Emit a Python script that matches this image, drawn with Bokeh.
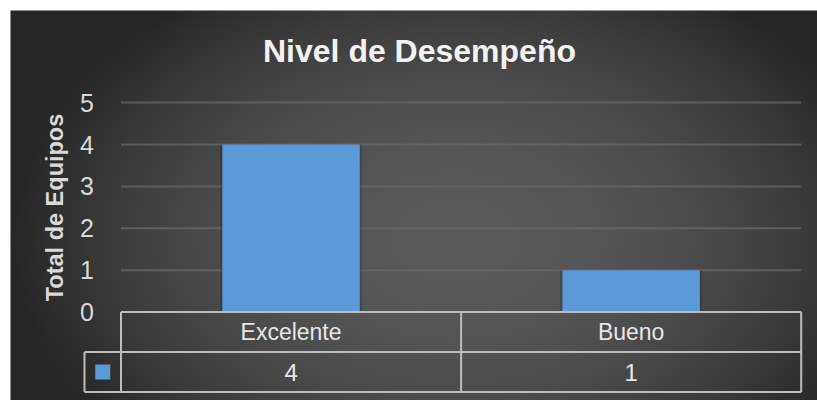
import numpy as np
from bokeh.plotting import figure
from bokeh.models import Range1d, LinearAxis, FixedTicker, Label
from bokeh.core.properties import value
from bokeh.embed import file_html
from bokeh.resources import INLINE

# ---- data ----
categories = ["Excelente", "Bueno"]
counts = [4, 1]
y_ticks = [0, 1, 2, 3, 4, 5]
title_text = "Nivel de Desempeño"
y_title = "Total de Equipos"

# ---- layout helpers (pixel geometry of the reference) ----
OFF = 0                 # canvas origin in the photographed page
X0, XS = 120.5, 340.1   # plot-left pixel, pixels per category
Y0, YS = 311.6, 41.9    # zero-line pixel, pixels per unit
def dx(px): return (px - X0) / XS
def dy(py): return (Y0 - py) / YS

W, H = 817, 400
p = figure(width=W, height=H, output_backend="svg", toolbar_location=None,
           x_range=Range1d(dx(OFF), dx(OFF + W)), y_range=Range1d(dy(OFF + H), dy(OFF)),
           x_axis_location=None, y_axis_location=None,
           min_border=0, min_border_left=0, min_border_right=0,
           min_border_top=0, min_border_bottom=0)
p.background_fill_color = "white"
p.border_fill_color = "white"
p.outline_line_color = None
p.xgrid.visible = False
p.ygrid.visible = False

# ---- radial gradient background ----
bx0, by0, bx1, by1 = 10, 10, 817, 400
bw, bh = bx1 - bx0, by1 - by0
cols = np.arange(bw) + bx0 + 0.5
rows = by1 - 0.5 - np.arange(bh)
PX, PY = np.meshgrid(cols, rows)
cx, cy, ax_, ay_ = 455, 240, 445, 300
r = np.clip(np.sqrt(((PX - cx) / ax_) ** 2 + ((PY - cy) / ay_) ** 2), 0, 1)
lvl = (0x26 + (0x5a - 0x26) * (1 - r ** 2)).astype(np.uint8)
img = np.empty((bh, bw), dtype=np.uint32)
v = img.view(dtype=np.uint8).reshape((bh, bw, 4))
v[..., 0] = lvl; v[..., 1] = lvl; v[..., 2] = lvl; v[..., 3] = 255
p.image_rgba(image=[img], x=dx(bx0), y=dy(by1), dw=bw / XS, dh=bh / YS)

n = len(categories)
xs = [i + 0.5 for i in range(n)]

# ---- gridlines (ticks above zero) ----
grid_vals = [t for t in y_ticks if t > 0]
p.segment(x0=[0] * len(grid_vals), x1=[n] * len(grid_vals), y0=grid_vals, y1=grid_vals,
          line_color="#6a6a6a", line_alpha=0.75, line_width=2)

# ---- bars (soft shadow + bar) ----
p.vbar(x=xs, top=counts, bottom=0, width=0.418,
       fill_color="black", fill_alpha=0.15, line_color=None)
p.vbar(x=xs, top=counts, bottom=0, width=0.404,
       fill_color="#5a9ad8", line_color=None)

# ---- data table ----
row_h = 40 / YS
key_left = dx(84)
lc = "#bdbdbd"
p.segment(x0=[0, key_left, key_left], x1=[n, n, n],
          y0=[0, -row_h, -2 * row_h], y1=[0, -row_h, -2 * row_h],
          line_color=lc, line_width=2)
vx = [key_left] + list(range(n + 1))
vtop = [-row_h] + [0] * (n + 1)
p.segment(x0=vx, x1=vx, y0=vtop, y1=[-2 * row_h] * len(vx), line_color=lc, line_width=2)

FONT = "Liberation Sans"
p.text(x=xs, y=[-row_h / 2] * n, text=categories,
       text_font=value(FONT), text_font_size="23px",
       text_color="#e6e6e6", text_align="center", text_baseline="middle")
p.text(x=xs, y=[-1.5 * row_h] * n, text=[str(c) for c in counts],
       text_font=value(FONT), text_font_size="24px",
       text_color="#e6e6e6", text_align="center", text_baseline="middle")
p.scatter(x=[(key_left + 0) / 2], y=[-1.5 * row_h], marker="square", size=15,
          fill_color="#5a9ad8", line_color=None)

# ---- y axis ----
yax = LinearAxis(fixed_location=0, ticker=FixedTicker(ticks=y_ticks), bounds=(0, 5))
yax.axis_line_color = None
yax.major_tick_line_color = None
yax.minor_tick_line_color = None
yax.major_label_standoff = 21
yax.major_label_text_font = FONT
yax.major_label_text_font_size = "25px"
yax.major_label_text_color = "#d9d9d9"
yax.axis_label = y_title
yax.axis_label_text_font = FONT
yax.axis_label_text_font_style = "bold"
yax.axis_label_text_font_size = "23.5px"
yax.axis_label_text_color = "#d9d9d9"
yax.axis_label_standoff = 10
p.add_layout(yax, "left")

# ---- title ----
p.add_layout(Label(x=dx(419), y=dy(50), text=title_text, text_align="center",
                   text_baseline="middle", text_font=FONT,
                   text_font_style="bold", text_font_size="32px", text_color="#f2f2f2"))

open("out.html", "w").write(file_html(p, INLINE))
